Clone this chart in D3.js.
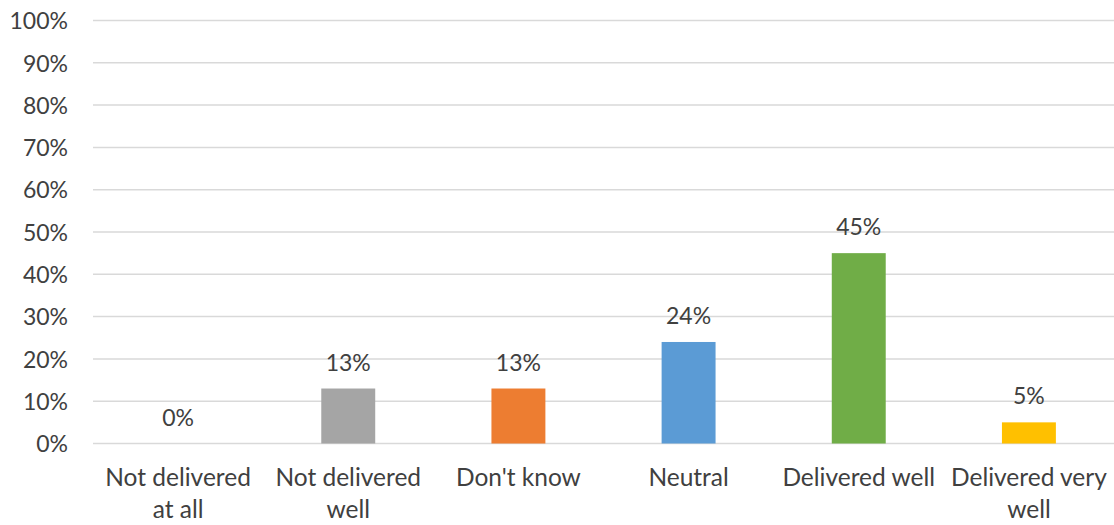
<!DOCTYPE html>
<html>
<head>
<meta charset="utf-8">
<script src="https://cdn.jsdelivr.net/npm/d3@7"></script>
<style>
  html, body { margin: 0; padding: 0; background: #fff; }
  svg text { font-family: Lato, "Open Sans", sans-serif; fill: #404040; }
</style>
</head>
<body>
<svg id="chart" width="1114" height="525"></svg>
<script>
// Survey responses: share of answers per category
const categories = ["Not delivered at all", "Not delivered well", "Don't know", "Neutral", "Delivered well", "Delivered very well"];
const labelLines = [["Not delivered", "at all"], ["Not delivered", "well"], ["Don't know"], ["Neutral"], ["Delivered well"], ["Delivered very", "well"]];
const values = [0, 13, 13, 24, 45, 5];
const barColors = ["#A5A5A5", "#A5A5A5", "#ED7D31", "#5B9BD5", "#70AD47", "#FFC000"];
const yTicks = [0, 10, 20, 30, 40, 50, 60, 70, 80, 90, 100];

const svg = d3.select("#chart");
const plotLeft = 93, plotRight = 1114, plotTop = 20.5, plotBottom = 443.5;
const fontSize = 23;
const catFontSize = 24.5;

const x = d3.scaleBand().domain(categories).range([plotLeft, plotRight]).paddingInner(0.683).paddingOuter(0.3415);
const y = d3.scaleLinear().domain([0, 100]).range([plotBottom, plotTop]);

// Horizontal gridlines
svg.append("g").selectAll("line").data(yTicks).join("line")
  .attr("x1", plotLeft).attr("x2", plotRight)
  .attr("y1", d => y(d)).attr("y2", d => y(d))
  .attr("stroke", "#D9D9D9").attr("stroke-width", 1.5);

// Y axis tick labels
const yAxis = d3.axisLeft(y).tickValues(yTicks).tickFormat(d => d + "%").tickSize(0).tickPadding(0);
const yg = svg.append("g").attr("transform", `translate(${plotLeft - 25},0)`).call(yAxis);
yg.select(".domain").remove();
yg.selectAll("text").attr("font-size", fontSize).attr("dy", "0.36em")
  .style("font-family", "Lato, sans-serif").attr("fill", "#404040");

// Bars
svg.append("g").selectAll("rect").data(values).join("rect")
  .attr("x", (d, i) => x(categories[i]))
  .attr("width", x.bandwidth())
  .attr("y", d => y(d))
  .attr("height", d => y(0) - y(d))
  .attr("fill", (d, i) => barColors[i]);

// Value labels above bars
svg.append("g").selectAll("text").data(values).join("text")
  .attr("x", (d, i) => x(categories[i]) + x.bandwidth() / 2)
  .attr("y", d => y(d) - 18)
  .attr("text-anchor", "middle")
  .attr("font-size", fontSize)
  .text(d => d + "%");

// Category labels (wrapped)
const cg = svg.append("g").selectAll("text").data(labelLines).join("text")
  .attr("text-anchor", "middle")
  .attr("font-size", catFontSize)
  .attr("x", (d, i) => x(categories[i]) + x.bandwidth() / 2)
  .attr("y", 486);
cg.selectAll("tspan").data(d => d).join("tspan")
  .attr("x", function() { return d3.select(this.parentNode).attr("x"); })
  .attr("dy", (d, i) => i === 0 ? 0 : 32)
  .text(d => d);
</script>
</body>
</html>
